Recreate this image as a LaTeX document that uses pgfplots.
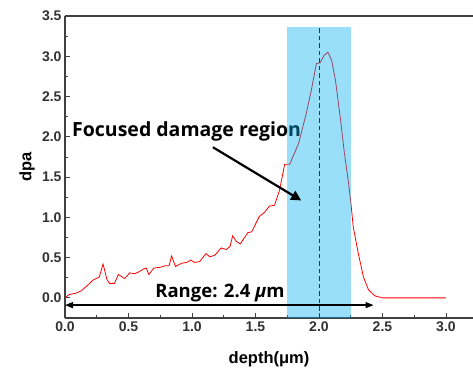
\documentclass[border=0pt]{standalone}
\usepackage{pgfplots}
\pgfplotsset{compat=1.18}
\usepackage{fontspec}
\setmainfont{Liberation Sans}
\newfontfamily\annot{Open Sans}
\usetikzlibrary{arrows.meta}
\definecolor{axgray}{RGB}{64,64,64}
\definecolor{bandblue}{RGB}{0,176,240}
\definecolor{tickgray}{RGB}{50,50,50}
\definecolor{dashcol}{RGB}{30,60,80}
\begin{document}
\begin{tikzpicture}
\begin{axis}[
  scale only axis, width=408pt, height=302pt,
  xmin=0, xmax=3.213, ymin=-0.25, ymax=3.5,
  axis x line*=bottom, axis y line*=left,
  axis line style={axgray, line width=1.1pt, -},
  xtick={0,0.5,1.0,1.5,2.0,2.5,3.0},
  ytick={0,0.5,1.0,1.5,2.0,2.5,3.0,3.5},
  minor x tick num=1, minor y tick num=1,
  tick align=inside,
  major tick length=5pt, minor tick length=3pt,
  tick style={axgray, line width=0.8pt},
  /pgf/number format/fixed,
  /pgf/number format/fixed zerofill,
  /pgf/number format/precision=1,
  /pgf/number format/assume math mode=true,
  xticklabel style={font=\bfseries\fontsize{14}{16}\selectfont, text=tickgray},
  yticklabel style={font=\bfseries\fontsize{14}{16}\selectfont, text=tickgray},
  xlabel={depth(μm)}, ylabel={dpa},
  label style={font=\bfseries\fontsize{16.5}{18}\selectfont},
  xlabel style={at={(axis description cs:0.5,0)}, anchor=base, yshift=-45pt},
  ylabel style={at={(axis description cs:0,0.5)}, anchor=center, yshift=38pt},
  clip=false,
]
\addplot[red, line width=0.8pt] coordinates {
(0.0,0.0) (0.03,0.04) (0.06,0.05) (0.09,0.06) (0.13,0.09) (0.18,0.16)
(0.22,0.22) (0.27,0.26) (0.30,0.42) (0.33,0.23) (0.35,0.18) (0.39,0.18)
(0.42,0.29) (0.44,0.27) (0.47,0.24) (0.51,0.31) (0.55,0.30) (0.59,0.33)
(0.62,0.36) (0.64,0.37) (0.66,0.29) (0.70,0.37) (0.75,0.38) (0.79,0.40)
(0.82,0.40) (0.84,0.52) (0.87,0.39) (0.92,0.43) (0.96,0.44) (0.99,0.47)
(1.02,0.44) (1.06,0.45) (1.11,0.55) (1.14,0.51) (1.18,0.53) (1.23,0.62)
(1.27,0.60) (1.30,0.64) (1.32,0.77) (1.35,0.70) (1.38,0.67) (1.44,0.81)
(1.47,0.82) (1.53,1.01) (1.57,1.06) (1.61,1.14) (1.65,1.15) (1.69,1.34)
(1.73,1.66) (1.77,1.66) (1.84,1.92) (1.90,2.29) (1.94,2.58) (1.98,2.91)
(2.01,2.92) (2.04,3.01) (2.07,3.05) (2.10,2.95) (2.13,2.70) (2.17,2.21)
(2.20,1.80) (2.23,1.46) (2.25,1.20) (2.27,0.88) (2.31,0.55) (2.35,0.26)
(2.39,0.10) (2.44,0.025) (2.50,0.0) (3.0,0.0)
};
\node[anchor=base west, font=\annot\bfseries\fontsize{19.5}{22}\selectfont, inner sep=0pt]
  at (axis cs:0.055,2.0) {Focused damage region};
\addplot[draw=none, fill=bandblue, fill opacity=0.4] coordinates {
(1.75,-0.25) (2.25,-0.25) (2.25,3.36) (1.75,3.36)} -- cycle;
\addplot[dashcol, line width=0.9pt, dash pattern=on 4.5pt off 3pt] coordinates {(2.0,-0.25) (2.0,3.36)};
\draw[black, line width=2.2pt, -{Triangle[length=10pt,width=10pt]}] (axis cs:1.165,1.87) -- (axis cs:1.86,1.21);
\draw[black, line width=1.3pt, {Triangle[length=8pt,width=6pt]}-{Triangle[length=8pt,width=6pt]}] (axis cs:0.0,-0.09) -- (axis cs:2.43,-0.09);
\node[anchor=base west, font=\annot\bfseries\fontsize{18.5}{21}\selectfont, inner sep=0pt]
  at (axis cs:0.71,0.0) {Range: 2.4 \textit{μ}m};
\draw[axgray, line width=1.1pt] (rel axis cs:0,1) -- (rel axis cs:1,1);
\end{axis}
\pgfresetboundingbox
\useasboundingbox ([xshift=-65pt,yshift=-49pt]current axis.south west) rectangle ([yshift=16pt]current axis.north east);
\end{tikzpicture}
\end{document}
